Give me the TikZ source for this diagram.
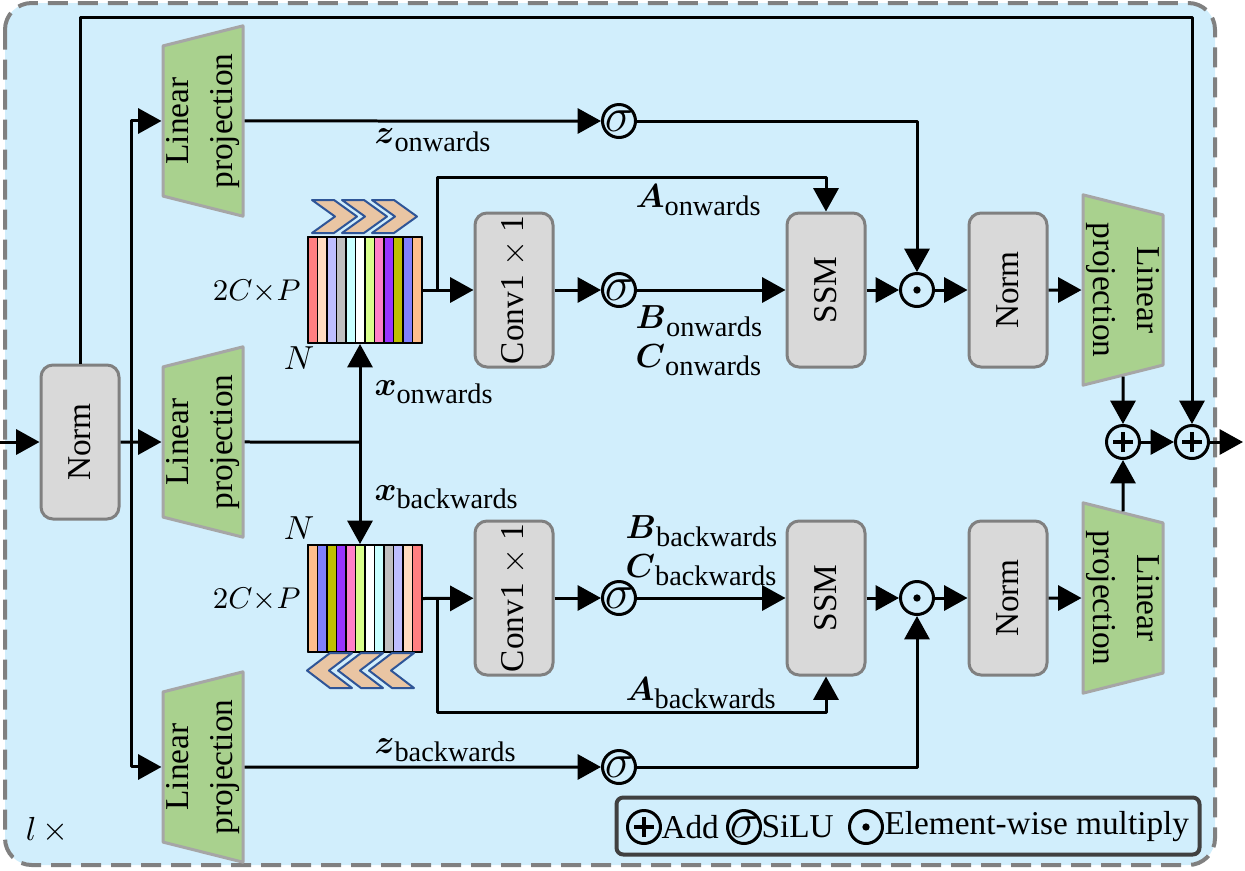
\documentclass[tikz,border=0pt]{standalone}
\usepackage{amsmath}
\usepackage{fontspec}
\setmainfont{Liberation Serif}
\usetikzlibrary{positioning,shapes.geometric,arrows.meta}

\definecolor{bgblue}{RGB}{209,238,252}
\definecolor{boxgray}{RGB}{217,217,217}
\definecolor{edgegray}{RGB}{128,128,128}
\definecolor{lpgreen}{RGB}{169,209,142}
\definecolor{lpedge}{RGB}{166,166,166}
\definecolor{chevfill}{RGB}{233,197,163}
\definecolor{chevedge}{RGB}{47,85,151}
\definecolor{legedge}{RGB}{64,64,64}
\definecolor{stA}{RGB}{255,128,128}
\definecolor{stB}{RGB}{255,220,192}
\definecolor{stC}{RGB}{190,190,255}
\definecolor{stD}{RGB}{191,191,191}
\definecolor{stE}{RGB}{200,255,255}
\definecolor{stF}{RGB}{255,255,255}
\definecolor{stG}{RGB}{218,255,140}
\definecolor{stH}{RGB}{255,128,200}
\definecolor{stI}{RGB}{153,51,255}
\definecolor{stJ}{RGB}{191,191,0}
\definecolor{stK}{RGB}{128,128,255}
\definecolor{stL}{RGB}{255,191,140}

\newcommand{\seqlab}[2]{$\boldsymbol{#1}_{\mbox{\fontsize{8.5}{9}\selectfont #2}}$}

\begin{document}
\begin{tikzpicture}[x=0.3pt,y=-0.3pt,line join=round,>={Triangle[length=7pt,width=7.5pt]},line width=0.9pt]
 \tikzset{every node/.style={font=\fontsize{10}{12}\selectfont}}
 \tikzset{blk/.style={draw=edgegray,fill=boxgray,rounded corners=3.6pt,minimum width=46.2pt,minimum height=23.4pt,inner sep=0pt,rotate=90},
  linproj/.style={trapezium,trapezium angle=76,trapezium stretches=true,draw=lpedge,fill=lpgreen,minimum width=57.3pt,minimum height=24pt,inner sep=0pt,align=center,font=\fontsize{10}{13}\selectfont},
  opnode/.style={circle,draw,minimum size=9.9pt,inner sep=0pt},
  silu/.style={opnode,label={[font=\fontsize{15}{15}\selectfont,inner sep=0pt]center:$\sigma$}},
  addop/.style={opnode,path picture={\draw[line width=1.3pt] ([xshift=-3pt]path picture bounding box.center)--([xshift=3pt]path picture bounding box.center) ([yshift=-3pt]path picture bounding box.center)--([yshift=3pt]path picture bounding box.center);}},
  mulop/.style={opnode,path picture={\fill (path picture bounding box.center) circle (1.1pt);}},
  chev/.style={draw=chevedge,fill=chevfill,line width=0.6pt},
  dimlab/.style={anchor=east,inner sep=0pt,font=\fontsize{9}{10}\selectfont}}
 \useasboundingbox (0,0) rectangle (1245,870);
 \draw[edgegray,line width=1.2pt,dash pattern=on 6pt off 3pt,fill=bgblue,rounded corners=8pt] (5,3) rectangle (1215,865);

 % input, norm and linear projections
 \coordinate (in) at (0,442);
 \coordinate (out) at (1243,442);
 \node[blk] (norm) at (80,442) {Norm};
 \node[linproj,rotate=90] (lpz1) at (203,121) {Linear\\projection};
 \node[linproj,rotate=90] (lpx) at (203,442) {Linear\\projection};
 \node[linproj,rotate=90] (lpz2) at (203,767) {Linear\\projection};

 % sequences
 \foreach \c [count=\i from 0] in {stA,stB,stC,stD,stE,stF,stG,stH,stI,stJ,stK,stL}
 \draw[fill=\c,line width=0.4pt] (308+9.5*\i,237) rectangle ++(9.5,106);
 \foreach \c [count=\i from 0] in {stL,stK,stJ,stI,stH,stG,stF,stE,stD,stC,stB,stA}
 \draw[fill=\c,line width=0.4pt] (308+9.5*\i,545) rectangle ++(9.5,107);
 \node[draw,line width=0.6pt,minimum width=34.2pt,minimum height=31.8pt,inner sep=0pt] (seqf) at (365,290) {};
 \node[draw,line width=0.6pt,minimum width=34.2pt,minimum height=32.1pt,inner sep=0pt] (seqb) at (365,598.5) {};
 \foreach \s in {0,30,60}
 \draw[chev] (312+\s,200) -- ++(22,0) -- ++(23,16.5) -- ++(-23,16.5) -- ++(-22,0) -- ++(23,-16.5) -- cycle;
 \foreach \s in {0,31,62}
 \draw[chev] (352+\s,653) -- ++(-22,0) -- ++(-23,17.5) -- ++(23,17.5) -- ++(22,0) -- ++(-23,-17.5) -- cycle;
 \node[dimlab] (dimf) at (302,292) {$2C{\times}P$};
 \node[dimlab] (dimb) at (302,600) {$2C{\times}P$};
 \node (nf) at (299,358) {$N$};
 \node (nb) at (299,528) {$N$};

 % onwards branch
 \node[blk] (conv1) at (514,290) {Conv1 $\times$ 1};
 \node[silu] (sb1) at (619,290) {};
 \node[blk] (ssm1) at (826,290) {SSM};
 \node[mulop] (dot1) at (917,290) {};
 \node[blk] (nrm1) at (1008,290) {Norm};
 \node[linproj,rotate=-90] (lpr1) at (1123,290) {Linear\\projection};
 \node[silu] (sz1) at (619,121) {};

 % backwards branch
 \node[blk] (conv2) at (514,598) {Conv1 $\times$ 1};
 \node[silu] (sb2) at (619,598) {};
 \node[blk] (ssm2) at (826,598) {SSM};
 \node[mulop] (dot2) at (917,598) {};
 \node[blk] (nrm2) at (1008,598) {Norm};
 \node[linproj,rotate=-90] (lpr2) at (1123,598) {Linear\\projection};
 \node[silu] (sz2) at (619,767) {};

 \node[addop] (add1) at (1123,442) {};
 \node[addop] (add2) at (1192,442) {};

 % connectors
 \coordinate (tl) at (80,17);
 \coordinate (tr) at (131,442);
 \coordinate (jn) at (360,442);
 \coordinate (bf) at (437,290);
 \coordinate (af) at (437,177);
 \coordinate (bb) at (437,598);
 \coordinate (ab) at (437,712);
 \draw[->] (in) -- (norm);
 \draw[->] (norm.east) -- (tl) -| (add2);
 \draw[->] (norm.south) -- (lpx);
 \draw[->] (tr) |- (lpz1);
 \draw[->] (tr) |- (lpz2);
 \draw (lpx) -- (jn);
 \draw[->] (jn) -- (jn |- seqf.south);
 \draw[->] (jn) -- (jn |- seqb.north);
 \draw[->] (seqf.east) -- (conv1);
 \draw[->] (seqb.east) -- (conv2);
 \draw[->] (bf) -- (af) -| (ssm1);
 \draw[->] (bb) -- (ab) -| (ssm2);
 \draw[->] (conv1) -- (sb1);
 \draw[->] (sb1) -- (ssm1);
 \draw[->] (ssm1) -- (dot1);
 \draw[->] (dot1) -- (nrm1);
 \draw[->] (nrm1) -- (lpr1);
 \draw[->] (conv2) -- (sb2);
 \draw[->] (sb2) -- (ssm2);
 \draw[->] (ssm2) -- (dot2);
 \draw[->] (dot2) -- (nrm2);
 \draw[->] (nrm2) -- (lpr2);
 \draw[->] (lpz1) -- (sz1);
 \draw[->] (sz1) -| (dot1);
 \draw[->] (lpz2) -- (sz2);
 \draw[->] (sz2) -| (dot2);
 \draw[->] (lpr1) -- (add1);
 \draw[->] (lpr2) -- (add1);
 \draw[->] (add1) -- (add2);
 \draw[->] (add2) -- (out);

 % labels
 \node[anchor=west] (lzf) at (362,140) {\seqlab{z}{onwards}};
 \node[anchor=west] (laf) at (623,200) {\seqlab{A}{onwards}};
 \node[anchor=west] (lbf) at (623,321) {\seqlab{B}{onwards}};
 \node[anchor=west] (lcf) at (623,360) {\seqlab{C}{onwards}};
 \node[anchor=west] (lxf) at (362,392) {\seqlab{x}{onwards}};
 \node[anchor=west] (lxb) at (362,497) {\seqlab{x}{backwards}};
 \node[anchor=west] (lbb) at (613,531) {\seqlab{B}{backwards}};
 \node[anchor=west] (lcb) at (613,570) {\seqlab{C}{backwards}};
 \node[anchor=west] (lab) at (613,693) {\seqlab{A}{backwards}};
 \node[anchor=west] (lzb) at (362,750) {\seqlab{z}{backwards}};
 \node (rep) at (47,830) {$l\,\times$};

 % legend
 \node[draw=legedge,line width=1.2pt,rounded corners=2pt,minimum width=174.9pt,minimum height=17.1pt,inner sep=0pt] (legend) at (908,826) {};
 \node[addop] (kadd) at (644,827) {};
 \node[anchor=west,inner sep=0pt] (kaddt) at (660,827) {Add};
 \node[silu] (ksilu) at (744,827) {};
 \node[anchor=west,inner sep=0pt] (ksilut) at (760,827) {SiLU};
 \node[mulop] (kmul) at (866,827) {};
 \node[anchor=west,inner sep=0pt] (kmult) at (883,827) {Element-wise multiply};
\end{tikzpicture}
\end{document}
